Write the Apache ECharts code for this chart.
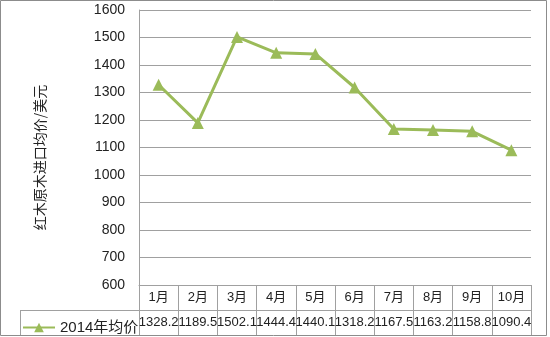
<!DOCTYPE html>
<html>
<head>
<meta charset="utf-8">
<script src="https://cdn.jsdelivr.net/npm/echarts@6/dist/echarts.min.js"></script>
<style>
html,body{margin:0;padding:0;background:#fff;}
#c{width:550px;height:337px;}
</style>
</head>
<body>
<div id="c"></div>
<script>
var categories = ['1月','2月','3月','4月','5月','6月','7月','8月','9月','10月'];
var values = [1328.2, 1189.5, 1502.1, 1444.4, 1440.1, 1318.2, 1167.5, 1163.2, 1158.8, 1090.4];
var valueLabels = ['1328.2','1189.5','1502.1','1444.4','1440.1','1318.2','1167.5','1163.2','1158.8','1090.4'];
var seriesName = '2014年均价';
var yAxisName = '红木原木进口均价/美元';

var lineColor = '#a0a0a0';
var green = '#9bbb59';
var numFont = '"Liberation Sans", Arial, sans-serif';
var cjkFont = '"Liberation Sans", "Noto Sans CJK SC", sans-serif';

var chart = echarts.init(document.getElementById('c'), null, {renderer: 'canvas'});
var option = {
  animation: false,
  backgroundColor: '#fff',
  grid: {left: 139, right: 19, top: 10, bottom: 52, containLabel: false},
  legend: {
    data: [seriesName],
    left: 17, top: 315,
    itemWidth: 32, itemHeight: 12, itemGap: 5,
    textStyle: {fontFamily: cjkFont, fontSize: 15, color: '#222'}
  },
  xAxis: [
    {
      type: 'category', data: categories, boundaryGap: true, position: 'bottom',
      axisLine: {show: true, lineStyle: {color: lineColor, width: 1}},
      axisTick: {show: true, length: 50, lineStyle: {color: lineColor, width: 1}},
      axisLabel: {interval: 0, margin: 6, fontFamily: cjkFont, fontSize: 13, color: '#222'},
      splitLine: {show: false}
    },
    {
      type: 'category', data: valueLabels, boundaryGap: true, position: 'bottom', offset: 25,
      axisLine: {show: true, lineStyle: {color: lineColor, width: 1}},
      axisTick: {show: false},
      axisLabel: {interval: 0, margin: 6, fontFamily: numFont, fontSize: 13, color: '#222'},
      splitLine: {show: false}
    }
  ],
  yAxis: {
    type: 'value', min: 600, max: 1600, interval: 100,
    name: yAxisName, nameLocation: 'middle', nameGap: 92, nameRotate: 90,
    nameTextStyle: {fontFamily: '"Noto Sans CJK SC", sans-serif', fontSize: 14, color: '#222', padding: [0, 20, 0, 0]},
    axisLine: {show: true, lineStyle: {color: lineColor, width: 1}},
    axisTick: {show: false},
    axisLabel: {margin: 14, fontFamily: numFont, fontSize: 14, color: '#222', formatter: function (v) { return String(v); }},
    splitLine: {show: true, lineStyle: {color: lineColor, width: 1}}
  },
  series: [{
    name: seriesName, type: 'line', data: values, xAxisIndex: 0,
    symbol: 'triangle', symbolSize: 12,
    lineStyle: {color: green, width: 3},
    itemStyle: {color: green},
    label: {show: false}
  }]
};
chart.setOption(option);

// table borders and frame, positioned from the grid
var rect = chart.getModel().getComponent('grid').coordinateSystem.getRect();
var rowY = rect.y + rect.height + 25;
chart.setOption({
  graphic: [
    {type: 'line', shape: {x1: 20, y1: rowY + 0.5, x2: rect.x + rect.width, y2: rowY + 0.5}, style: {stroke: lineColor, lineWidth: 1}, silent: true},
    {type: 'line', shape: {x1: 20.5, y1: rowY, x2: 20.5, y2: rowY + 25}, style: {stroke: lineColor, lineWidth: 1}, silent: true},
    {type: 'rect', shape: {x: 0.5, y: 0.5, width: 546, height: 335}, style: {fill: 'none', stroke: '#8c8c8c', lineWidth: 1}, silent: true}
  ]
});
</script>
</body>
</html>
